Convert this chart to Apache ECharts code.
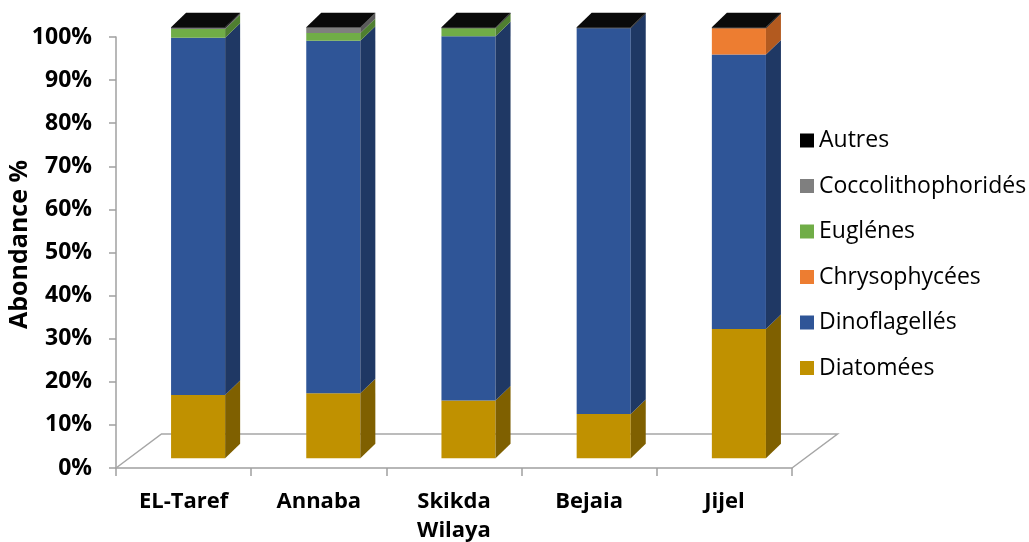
<!DOCTYPE html>
<html>
<head>
<meta charset="utf-8">
<script src="https://cdn.jsdelivr.net/npm/echarts@6/dist/echarts.min.js"></script>
<style>
  html, body { margin: 0; padding: 0; background: #ffffff; }
  #chart { width: 1029px; height: 542px; }
</style>
</head>
<body>
<div id="chart"></div>
<script>
// Sites along the coast
const categories = ['EL-Taref', 'Annaba', 'Skikda\nWilaya', 'Bejaia', 'Jijel'];

// Relative abundance (%) of each phytoplankton group per site
const diatomees          = [14.7, 15.1, 13.4, 10.3, 30.0];
const dinoflagelles      = [82.9, 81.8, 84.5, 89.5, 63.7];
const chrysophycees      = [0.0, 0.0, 0.0, 0.0, 6.1];
const euglenes           = [2.0, 1.8, 1.9, 0.0, 0.0];
const coccolithophorides = [0.2, 1.2, 0.0, 0.0, 0.0];
const autres             = [0.2, 0.1, 0.2, 0.2, 0.2];

const yTicks = [0, 10, 20, 30, 40, 50, 60, 70, 80, 90, 100];

// Stack order (bottom to top), with front and side face shades
const groups = [
  { name: 'Diatomées',          values: diatomees,          front: '#C09100', side: '#7F6000', top: '#D9A800' },
  { name: 'Dinoflagellés',      values: dinoflagelles,      front: '#2F5597', side: '#1F3864', top: '#3A66B0' },
  { name: 'Chrysophycées',      values: chrysophycees,      front: '#ED7D31', side: '#B35A1F', top: '#F29050' },
  { name: 'Euglénes',           values: euglenes,           front: '#70AD47', side: '#4F7F30', top: '#80BD57' },
  { name: 'Coccolithophoridés', values: coccolithophorides, front: '#7F7F7F', side: '#5A5A5A', top: '#8F8F8F' },
  { name: 'Autres',             values: autres,             front: '#000000', side: '#000000', top: '#0A0A0A' }
];

// Pseudo-3D look: bars sit part-way back on the floor, with a visible side and top
const BAR_RATIO = 0.4;      // bar width as a share of a category band
const SHIFT_X = 14.5;       // bar front plane offset from the axis plane
const SHIFT_Y = -9.7;
const DEPTH_X = 15;         // bar depth (side / top faces)
const DEPTH_Y = -14.5;
const FLOOR_X = 45.5;       // floor depth
const FLOOR_Y = -34;

// Cumulative stacking: each item is [category, bottom, top, isTopSegment]
const totals = categories.map((_, i) => groups.reduce((s, g) => s + g.values[i], 0));
const running = categories.map(() => 0);
const stacked = groups.map(g => g.values.map((v, i) => {
  const lo = running[i];
  const hi = lo + v;
  running[i] = hi;
  const isTop = v > 0 && Math.abs(hi - totals[i]) < 1e-9 ? 1 : 0;
  return [i, lo, hi, isTop];
}));

function makeRenderer(g) {
  return function (params, api) {
    const cat = api.value(0), lo = api.value(1), hi = api.value(2), isTop = api.value(3);
    if (hi - lo <= 0) return null;
    const pLo = api.coord([cat, lo]);
    const pHi = api.coord([cat, hi]);
    const w = api.size([1, 0])[0] * BAR_RATIO;
    const x0 = pLo[0] + SHIFT_X - w / 2;
    const x1 = x0 + w;
    const yb = pLo[1] + SHIFT_Y;
    const yt = pHi[1] + SHIFT_Y;
    const children = [
      { type: 'rect', shape: { x: x0, y: yt, width: w, height: yb - yt },
        style: { fill: g.front } },
      { type: 'polygon',
        shape: { points: [[x1, yb], [x1 + DEPTH_X, yb + DEPTH_Y], [x1 + DEPTH_X, yt + DEPTH_Y], [x1, yt]] },
        style: { fill: g.side } }
    ];
    if (isTop) {
      children.push({ type: 'polygon',
        shape: { points: [[x0, yt], [x1, yt], [x1 + DEPTH_X, yt + DEPTH_Y], [x0 + DEPTH_X, yt + DEPTH_Y]] },
        style: { fill: g.top } });
    }
    return { type: 'group', children };
  };
}

const barSeries = groups.map((g, k) => ({
  type: 'custom',
  name: g.name,
  data: stacked[k],
  itemStyle: { color: g.front },
  renderItem: makeRenderer(g),
  z: 3,
  silent: true
}));

// Floor outline behind the bars
const floorSeries = {
  type: 'custom',
  name: 'floor',
  data: [[0]],
  silent: true,
  z: 1,
  renderItem: function (params) {
    const cs = params.coordSys;
    const yb = cs.y + cs.height;
    return {
      type: 'polyline',
      shape: { points: [
        [cs.x, yb], [cs.x + FLOOR_X, yb + FLOOR_Y],
        [cs.x + cs.width + FLOOR_X, yb + FLOOR_Y], [cs.x + cs.width, yb]
      ] },
      style: { stroke: '#A6A6A6', lineWidth: 1.5, fill: null }
    };
  }
};

const chart = echarts.init(document.getElementById('chart'), null, { renderer: 'canvas' });
chart.setOption({
  animation: false,
  backgroundColor: '#ffffff',
  grid: { left: 116, right: 237, top: 37, bottom: 74, containLabel: false, outerBoundsMode: 'none' },
  legend: {
    data: groups.map(g => g.name).reverse(),
    orient: 'vertical',
    left: 795,
    top: 124,
    itemWidth: 14,
    itemHeight: 14,
    itemGap: 22.5,
    icon: 'rect',
    selectedMode: false,
    textStyle: { fontFamily: 'Open Sans', fontSize: 23, color: '#000000', lineHeight: 22 }
  },
  xAxis: {
    type: 'category',
    data: categories,
    boundaryGap: true,
    axisLine: { show: true, lineStyle: { color: '#A0A0A0', width: 1.5 } },
    axisTick: { show: true, length: 8, lineStyle: { color: '#A0A0A0', width: 1.5 } },
    axisLabel: {
      margin: 19,
      fontFamily: 'Open Sans',
      fontWeight: 'bold',
      fontSize: 22,
      lineHeight: 29,
      color: '#000000',
      interval: 0,
      verticalAlign: 'top'
    },
    splitLine: { show: false }
  },
  yAxis: {
    type: 'value',
    min: yTicks[0],
    max: yTicks[yTicks.length - 1],
    interval: yTicks[1] - yTicks[0],
    name: 'Abondance %',
    nameLocation: 'middle',
    nameRotate: 90,
    nameGap: 84,
    nameMoveOverlap: false,
    nameTextStyle: { fontFamily: 'Open Sans', fontWeight: 'bold', fontSize: 25, color: '#000000', padding: [0, 0, 0, 16] },
    axisLine: { show: true, lineStyle: { color: '#A0A0A0', width: 1.5 } },
    axisTick: { show: true, inside: false, length: 7, lineStyle: { color: '#A0A0A0', width: 1.5 } },
    axisLabel: {
      margin: 24,
      fontFamily: 'Open Sans',
      fontWeight: 'bold',
      fontSize: 23,
      color: '#000000',
      padding: [4, 0, 0, 0],
      formatter: '{value}%'
    },
    splitLine: { show: false }
  },
  series: [floorSeries].concat(barSeries)
});
</script>
</body>
</html>
